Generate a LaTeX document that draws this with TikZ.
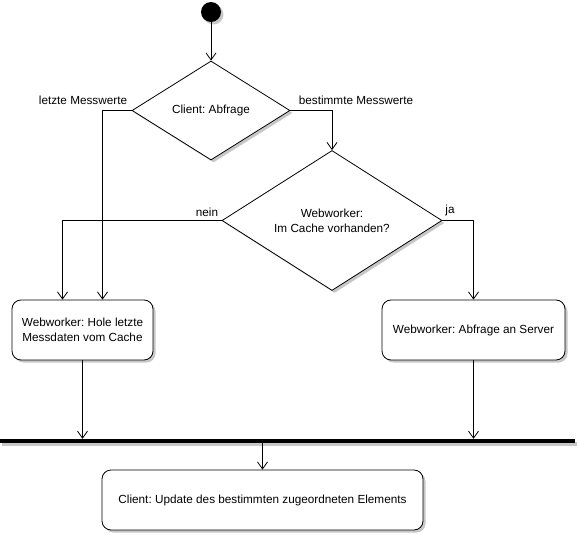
\documentclass[tikz,border=0pt]{standalone}
\usepackage{fontspec}
\setmainfont{Liberation Sans}
\frenchspacing
\usetikzlibrary{shapes.geometric,arrows.meta,shadows}
\begin{document}
\begin{tikzpicture}[x=1pt,y=-1pt,
  every node/.style={font=\fontsize{11.75}{15}\selectfont},
  shad/.style={drop shadow={shadow xshift=2.5pt,shadow yshift=-2.5pt,fill=black!22,opacity=1}},
  dec/.style={draw,shape=diamond,fill=white,inner sep=0pt,line width=0.8pt,shad,align=center},
  act/.style={draw,rounded corners=9pt,fill=white,line width=0.8pt,shad,align=center,inner sep=0pt},
  conn/.style={line width=0.8pt,-{Straight Barb[length=7pt,width=10pt,line width=0.8pt]}},
  lbl/.style={inner sep=0pt}
]
\useasboundingbox (0,0) rectangle (579,535);
\node[circle,fill=black,minimum size=20pt,inner sep=0pt,shad] (s) at (211,12) {};
\node[dec,minimum width=158pt,minimum height=99pt] (d1) at (211,110.5) {Client: Abfrage};
\node[dec,minimum width=220pt,minimum height=140pt] (d2) at (332,220.5) {Webworker:\\Im Cache vorhanden?};
\node[act,minimum width=141pt,minimum height=60pt] (b1) at (82.5,330) {Webworker: Hole letzte\\Messdaten vom Cache};
\node[act,minimum width=183pt,minimum height=60pt] (b2) at (473.5,330) {Webworker: Abfrage an Server};
\node[act,minimum width=321pt,minimum height=60pt] (b3) at (262.5,500) {Client: Update des bestimmten zugeordneten Elements};
\node[fill=black,minimum width=575pt,minimum height=4pt,inner sep=0pt,drop shadow={shadow xshift=1.5pt,shadow yshift=-2.5pt,fill=black!22,opacity=1}] (bar) at (287.5,441) {};
\draw[conn] (s) -- (d1);
\draw[conn] (d1.west) -| ([xshift=20pt]b1.north);
\draw[conn] (d1.east) -| (d2.north);
\draw[conn] (d2.west) -| ([xshift=-20pt]b1.north);
\draw[conn] (d2.east) -| (b2.north);
\draw[conn] (b1.south) -- (b1.south |- bar.north);
\draw[conn] (b2.south) -- (b2.south |- bar.north);
\draw[conn] (bar.south -| b3.north) -- (b3.north);
\node[lbl] (l1) at (83,100) {letzte Messwerte};
\node[lbl] (l2) at (356,100) {bestimmte Messwerte};
\node[lbl] (l3) at (207,212) {nein};
\node[lbl] (l4) at (450,210) {ja};
\end{tikzpicture}
\end{document}
